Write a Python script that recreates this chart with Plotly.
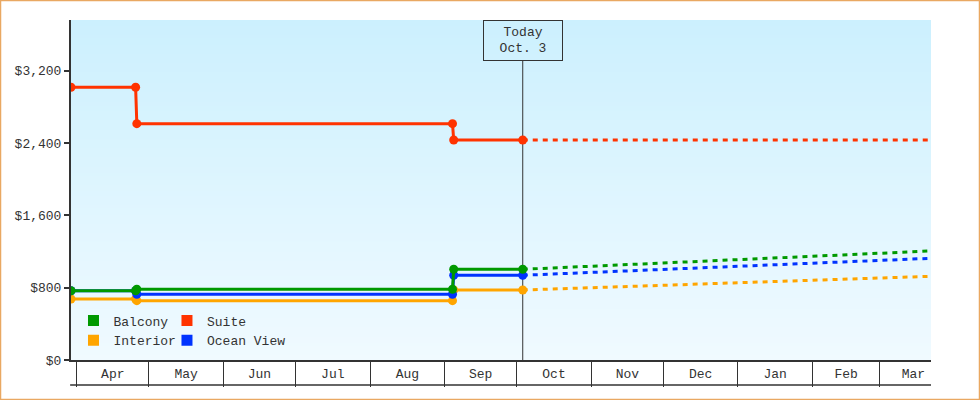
import base64
import struct
import zlib

import plotly.graph_objects as go

# ---------------- data ----------------
series_names = ["Balcony", "Suite", "Interior", "Ocean View"]
series_colors = {"Balcony": "#009900", "Suite": "#ff3300",
                 "Interior": "#ffa500", "Ocean View": "#0033ff"}

# price history (step changes), up to "today"
hist_dates = ["2022-03-29 15:00", "2022-04-25 12:00", "2022-04-26 00:00",
              "2022-09-04 07:00", "2022-09-04 19:00", "2022-10-03 12:00"]
balcony_hist = [766, 766, 782, 782, 1003, 1003]
suite_hist = [3016, 3016, 2614, 2614, 2433, 2433]
interior_hist = [675, 675, 656, 656, 774, 774]
ocean_hist = [766, 766, 727, 727, 937, 937]

# forecast after today
fc_dates = ["2022-10-03 12:00", "2022-11-01", "2022-12-01", "2023-01-01",
            "2023-02-01", "2023-03-01", "2023-03-22 07:00"]
balcony_fc = [1003, 1038, 1074, 1111, 1148, 1181, 1206]
suite_fc = [2433, 2433, 2433, 2433, 2433, 2433, 2433]
interior_fc = [774, 800, 827, 854, 882, 907, 926]
ocean_fc = [937, 969, 1002, 1036, 1070, 1101, 1125]

today = "2022-10-03 12:00"
today_label = "Today<br>Oct. 3"

x_range = ["2022-03-29 15:00", "2023-03-22 07:00"]
y_range = [0, 3760]
y_ticks = [0, 800, 1600, 2400, 3200]
y_ticktext = ["$0", "$800", "$1,600", "$2,400", "$3,200"]

hist = {"Balcony": balcony_hist, "Suite": suite_hist,
        "Interior": interior_hist, "Ocean View": ocean_hist}
fc = {"Balcony": balcony_fc, "Suite": suite_fc,
      "Interior": interior_fc, "Ocean View": ocean_fc}

FONT = "Liberation Mono"
INK = "#333333"


def gradient_png(top, bottom, h=256):
    raw = b""
    for i in range(h):
        t = i / (h - 1)
        c = bytes(round(top[k] + (bottom[k] - top[k]) * t) for k in range(3))
        raw += b"\x00" + c

    def chunk(tag, data):
        return (struct.pack(">I", len(data)) + tag + data +
                struct.pack(">I", zlib.crc32(tag + data) & 0xffffffff))

    png = (b"\x89PNG\r\n\x1a\n" +
           chunk(b"IHDR", struct.pack(">IIBBBBB", 1, h, 8, 2, 0, 0, 0)) +
           chunk(b"IDAT", zlib.compress(raw)) + chunk(b"IEND", b""))
    return "data:image/png;base64," + base64.b64encode(png).decode()


fig = go.Figure()

draw_order = ["Interior", "Ocean View", "Suite", "Balcony"]
for name in draw_order:
    col = series_colors[name]
    fig.add_trace(go.Scatter(
        x=fc_dates, y=fc[name], mode="lines", showlegend=False,
        line=dict(color=col, width=3, dash="5px,5px"), hoverinfo="skip"))
for name in draw_order:
    col = series_colors[name]
    fig.add_trace(go.Scatter(
        x=hist_dates, y=hist[name], mode="lines+markers", showlegend=False,
        line=dict(color=col, width=3), marker=dict(color=col, size=9),
        name=name))

# legend entries (square swatches): two columns
legend_of = {"Balcony": "legend", "Interior": "legend",
             "Suite": "legend2", "Ocean View": "legend2"}
for name in ["Balcony", "Interior", "Suite", "Ocean View"]:
    fig.add_trace(go.Scatter(
        x=[None], y=[None], mode="markers", name=name,
        marker=dict(symbol="square", size=11, color=series_colors[name]),
        legend=legend_of[name], showlegend=True))

legend_common = dict(orientation="v", xanchor="left", yanchor="middle",
                     bgcolor="rgba(0,0,0,0)", borderwidth=0,
                     traceorder="normal",
                     font=dict(family=FONT, size=13, color=INK),
                     itemclick=False, itemdoubleclick=False)

fig.update_layout(
    width=980, height=400, autosize=False,
    margin=dict(l=71, r=49, t=20, b=40, pad=0),
    paper_bgcolor="white", plot_bgcolor="#e0f5fe",
    font=dict(family=FONT, size=13, color=INK),
    legend=dict(x=0.0029, y=0.0868, **legend_common),
    legend2=dict(x=0.1116, y=0.0868, **legend_common),
    xaxis=dict(
        type="date", range=x_range, showgrid=False, zeroline=False,
        showline=True, linecolor=INK, linewidth=2,
        dtick="M1", tick0="2022-04-01", tickformat="%b",
        ticklabelmode="period", ticks="",
        tickfont=dict(family=FONT, size=13, color=INK),
        minor=dict(ticks="outside", ticklen=25, tickwidth=1,
                   tickcolor=INK, dtick="M1", tick0="2022-04-01 00:00:01",
                   showgrid=False),
    ),
    yaxis=dict(
        range=y_range, tickvals=y_ticks, ticktext=y_ticktext,
        showgrid=False, zeroline=False, showline=True, linecolor=INK,
        linewidth=2, ticks="outside", ticklen=5, tickwidth=2,
        tickcolor=INK, tickfont=dict(family=FONT, size=13, color=INK),
    ),
    images=[dict(source=gradient_png((204, 240, 254), (240, 250, 255)),
                 xref="paper", yref="paper", x=0, y=1, sizex=1, sizey=1,
                 xanchor="left", yanchor="top", sizing="stretch",
                 layer="below")],
    showlegend=True,
)

# today marker line and label
fig.add_shape(type="line", xref="x", yref="paper", x0=today, x1=today,
              y0=0, y1=0.88, line=dict(color=INK, width=1), layer="below")
fig.add_annotation(x=today, xref="x", y=1, yref="paper", xanchor="center",
                   yanchor="top", text=today_label, showarrow=False,
                   font=dict(family=FONT, size=13, color=INK),
                   bordercolor=INK, borderwidth=1, borderpad=2,
                   width=74, height=35, bgcolor="rgba(0,0,0,0)")

# bottom line of the month label band
fig.add_shape(type="line", xref="paper", yref="paper", x0=-0.001, x1=1,
              y0=-25 / 340, y1=-25 / 340, line=dict(color=INK, width=1.5))

# outer border
fig.add_shape(type="rect", xref="paper", yref="paper",
              x0=-70.5 / 860, x1=908.5 / 860, y0=-39.5 / 340, y1=359.5 / 340,
              line=dict(color="#e9a862", width=1.5), fillcolor="rgba(0,0,0,0)")

fig.write_html("out.html",
               config={"displayModeBar": False},
               post_script="document.body.style.margin='0';")
